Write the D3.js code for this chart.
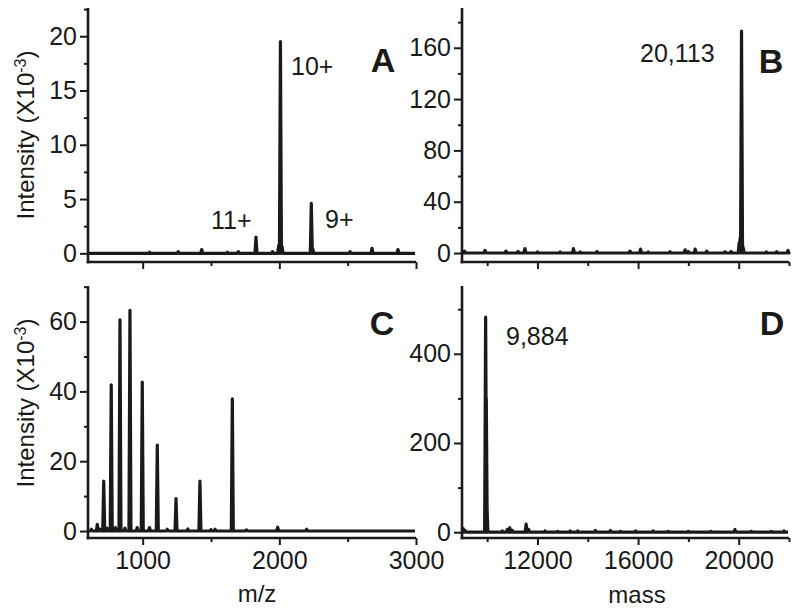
<!DOCTYPE html>
<html>
<head>
<meta charset="utf-8">
<script src="https://cdn.jsdelivr.net/npm/d3@7.9.0/dist/d3.min.js"></script>
<style>
  body { margin: 0; background: #fff; }
  svg { display: block; font-family: "Liberation Sans", Arial, sans-serif; }
</style>
</head>
<body>
<svg id="chart" width="800" height="612"></svg>
<script>
// spectra: [position, intensity]
const peaksA = [[1050, 0.1], [1260, 0.15], [1432, 0.35], [1620, 0.1], [1700, 0.15], [1829, 1.5],
  [1950, 0.15], [1995, 0.7], [2008, 19.5], [2020, 0.6], [2234, 4.6], [2245, 0.4],
  [2517, 0.15], [2678, 0.45], [2868, 0.35]];
const peaksB = [[9100, 1.5], [9915, 2], [10750, 1.5], [11230, 1.2], [11500, 3.5], [12000, 0.8],
  [12900, 0.8], [13430, 3.5], [13700, 0.8], [14370, 1.2], [15680, 1.5], [16100, 3], [16400, 0.8],
  [17270, 1], [17870, 2.5], [18000, 1.2], [18270, 3], [18730, 1.5], [19460, 1], [19700, 1.2],
  [20020, 8], [20060, 12], [20090, 17], [20113, 173], [20140, 10], [20180, 4],
  [21100, 0.8], [21510, 1], [21960, 2]];
const peaksC = [[625, 0.5], [668, 1.9], [690, 0.5], [715, 14.3], [740, 0.8], [770, 41.9], [800, 1],
  [834, 60.5], [870, 0.8], [907, 63.2], [960, 1], [997, 42.7], [1050, 1], [1107, 24.6],
  [1180, 0.5], [1244, 9.3], [1330, 0.6], [1419, 14.3], [1500, 0.4], [1530, 0.5], [1656, 37.9],
  [1760, 0.3], [1988, 1.1], [2200, 0.5]];
const peaksD = [[9050, 8], [9120, 4], [9940, 482], [9965, 300], [9990, 65], [10600, 3], [10800, 6],
  [10900, 10], [11000, 4], [11550, 18], [11650, 6], [12300, 3], [12800, 2], [13300, 3], [13600, 3],
  [14300, 4], [14900, 4], [15300, 2], [15900, 3], [16600, 3], [17200, 2], [18000, 2], [18900, 2],
  [19850, 6], [20500, 2], [21300, 2], [21800, 3]];

const mzDomain = [600, 3000];
const mzTicks = [1000, 2000, 3000];
const mzMinor = [1500, 2500];
const massDomain = [9000, 22000];
const massTicks = [12000, 16000, 20000];
const massMinor = [10000, 14000, 18000, 22000];

const yTicksA = [0, 5, 10, 15, 20];
const yMinorA = [2.5, 7.5, 12.5, 17.5, 22.5];
const yTicksB = [0, 40, 80, 120, 160];
const yMinorB = [20, 60, 100, 140, 180];
const yTicksC = [0, 20, 40, 60];
const yMinorC = [10, 30, 50, 70];
const yTicksD = [0, 200, 400];
const yMinorD = [100, 300, 500];

const annotations = {
  A: [['11+', 211, 229], ['10+', 291, 75], ['9+', 325, 228]],
  B: [['20,113', 640, 62]],
  C: [],
  D: [['9,884', 506, 345]],
};

const ink = '#1a1a1a';
const svg = d3.select('#chart');

const panels = [
  { id: 'A', peaks: peaksA, xd: mzDomain, xt: mzTicks, xm: mzMinor, yd: [-0.8, 22.6], yt: yTicksA, ym: yMinorA,
    left: 88, right: 416, top: 8, bottom: 262, xLabels: false, labelX: 383, labelY: 72 },
  { id: 'B', peaks: peaksB, xd: massDomain, xt: massTicks, xm: massMinor, yd: [-7, 191], yt: yTicksB, ym: yMinorB,
    left: 462, right: 789, top: 8, bottom: 262, xLabels: false, labelX: 771, labelY: 73 },
  { id: 'C', peaks: peaksC, xd: mzDomain, xt: mzTicks, xm: mzMinor, yd: [-2, 70.2], yt: yTicksC, ym: yMinorC,
    left: 88, right: 416, top: 286, bottom: 538, xLabels: true, labelX: 382, labelY: 335 },
  { id: 'D', peaks: peaksD, xd: massDomain, xt: massTicks, xm: massMinor, yd: [-13, 552], yt: yTicksD, ym: yMinorD,
    left: 462, right: 789, top: 286, bottom: 538, xLabels: true, labelX: 772, labelY: 335 },
];

function drawPanel(p) {
  const x = d3.scaleLinear().domain(p.xd).range([p.left, p.right]);
  const y = d3.scaleLinear().domain(p.yd).range([p.bottom, p.top]);
  const g = svg.append('g');

  // spectrum: baseline with narrow peaks
  const pts = [[x(p.xd[0]), y(0)]];
  d3.sort(p.peaks, d => d[0]).forEach(([pos, h]) => {
    const cx = x(pos);
    pts.push([cx - 1, y(0)], [cx, y(h)], [cx + 1, y(0)]);
  });
  pts.push([x(p.xd[1]) - 1, y(0)]);
  g.append('path')
    .attr('d', d3.line()(pts))
    .attr('fill', 'none')
    .attr('stroke', ink)
    .attr('stroke-width', 3.2)
    .attr('stroke-linejoin', 'round');

  // axes
  const yAxis = g.append('g').attr('transform', `translate(${p.left},0)`)
    .call(d3.axisLeft(y).tickValues(p.yt).tickSize(8).tickPadding(3).tickSizeOuter(0));
  g.append('g').attr('transform', `translate(${p.left},0)`)
    .call(d3.axisLeft(y).tickValues(p.ym).tickSize(4).tickFormat('').tickSizeOuter(0))
    .select('.domain').remove();
  const xAxis = g.append('g').attr('transform', `translate(0,${p.bottom})`)
    .call(d3.axisBottom(x).tickValues(p.xt).tickSize(7).tickPadding(6).tickSizeOuter(0)
      .tickFormat(p.xLabels ? d3.format('d') : ''));
  g.append('g').attr('transform', `translate(0,${p.bottom})`)
    .call(d3.axisBottom(x).tickValues(p.xm).tickSize(4).tickFormat('').tickSizeOuter(0))
    .select('.domain').remove();

  g.selectAll('.domain').attr('stroke', ink).attr('stroke-width', 2.6);
  g.selectAll('.tick line').attr('stroke', ink).attr('stroke-width', 2);
  g.selectAll('.tick text').attr('fill', ink).style('font-size', '25px')
    .style('font-family', '"Liberation Sans", Arial, sans-serif');
  // join the two axis lines at the corner
  yAxis.select('.domain').attr('d', `M0,${p.top}V${p.bottom + 1.3}`);
  xAxis.select('.domain').attr('d', `M${p.left - 1.3},0H${p.right}`);

  // panel letter
  g.append('text').attr('x', p.labelX).attr('y', p.labelY)
    .attr('text-anchor', 'middle').attr('font-weight', 'bold')
    .attr('font-size', 34).attr('fill', ink).text(p.id);

  g.selectAll('text.ann').data(annotations[p.id]).join('text')
    .attr('class', 'ann')
    .attr('x', d => d[1]).attr('y', d => d[2])
    .attr('font-size', 25).attr('fill', ink)
    .text(d => d[0]);
}

panels.forEach(drawPanel);

// y titles
[135, 403].forEach(cy => {
  const t = svg.append('text')
    .attr('transform', `translate(33.5,${cy}) rotate(-90)`)
    .attr('text-anchor', 'middle')
    .attr('font-size', 24).attr('fill', ink);
  t.append('tspan').text('Intensity (X10');
  t.append('tspan').attr('baseline-shift', 'super').attr('font-size', 16).text('-3');
  t.append('tspan').text(')');
});

// x titles
svg.append('text').attr('x', 257).attr('y', 602).attr('text-anchor', 'middle')
  .attr('font-size', 24).attr('fill', ink).text('m/z');
svg.append('text').attr('x', 637).attr('y', 603).attr('text-anchor', 'middle')
  .attr('font-size', 24).attr('fill', ink).text('mass');
</script>
</body>
</html>
